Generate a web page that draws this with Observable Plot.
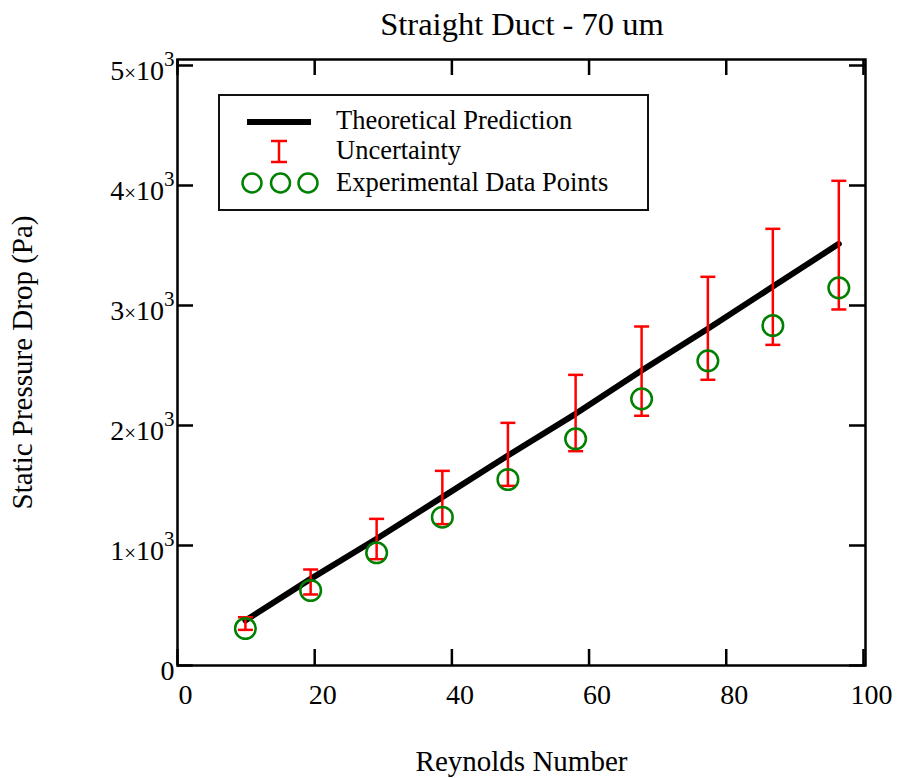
<!DOCTYPE html>
<html>
<head>
<meta charset="utf-8">
<script src="https://cdn.jsdelivr.net/npm/d3@7"></script>
<script src="https://cdn.jsdelivr.net/npm/@observablehq/plot@0.6"></script>
<style>
  html, body { margin: 0; padding: 0; background: #fff; }
  #wrap { position: relative; width: 899px; height: 778px; font-family: "Liberation Serif", "Times New Roman", serif; }
  #title { position: absolute; left: 177px; width: 690px; top: 8px; text-align: center; font-size: 32.5px; line-height: 32px; color: #000; }
  #legend { position: absolute; left: 218px; top: 94px; width: 427px; height: 113px; border: 2px solid #111; background: #fff; }
  #legend svg { position: absolute; left: 0; top: 0; }
</style>
</head>
<body>
<div id="wrap">
  <div id="chart"></div>
  <div id="title">Straight Duct - 70 um</div>
  <div id="legend"></div>
</div>
<script>
// ---- data ----
const reynolds = [9.90, 19.41, 29.03, 38.61, 48.17, 58.04, 67.66, 77.32, 86.79, 96.41];
const measured = [308, 625, 939, 1236, 1550, 1889, 2222, 2539, 2833, 3147];
const theory   = [375, 722, 1056, 1403, 1750, 2097, 2458, 2806, 3158, 3514];
const errHigh  = [402, 800, 1222, 1622, 2022, 2422, 2825, 3239, 3639, 4039];
const errLow   = [297, 592, 886, 1178, 1497, 1786, 2081, 2381, 2672, 2967];
const xTicks = [0, 20, 40, 60, 80, 100];
const yTicks = [0, 1000, 2000, 3000, 4000, 5000];
const xLabel = "Reynolds Number";
const yLabel = "Static Pressure Drop (Pa)";
const legendLabels = ["Theoretical Prediction", "Uncertainty", "Experimental Data Points"];

const rows = reynolds.map((x, i) => ({x, measured: measured[i], theory: theory[i], hi: errHigh[i], lo: errLow[i]}));

const W = 899, H = 778;
const mL = 177, mR = 34, mT = 59, mB = 113;
const fw = W - mL - mR, fh = H - mT - mB;
const tickLen = 16;

const cap = {draw(ctx) { ctx.moveTo(-7.5, 0); ctx.lineTo(7.5, 0); }};

const chart = Plot.plot({
  width: W, height: H,
  marginLeft: mL, marginRight: mR, marginTop: mT, marginBottom: mB,
  style: {fontFamily: "'Liberation Serif', 'Times New Roman', serif", background: "#fff", color: "#000"},
  x: {domain: [0, 100.3]},
  y: {domain: [0, 5050]},
  marks: [
    Plot.axisX(xTicks, {tickSize: 0, tickPadding: 19, dx: 8, fontSize: 28, label: null}),
    Plot.axisY(yTicks, {tickSize: 0, tickPadding: 3, dy: 6, fontSize: 28, label: null,
      tickFormat: d => d === 0 ? "0" : `${d / 1000}×10³`}),
    Plot.tickX(xTicks, {x: d => d, insetTop: fh - tickLen, stroke: "#000", strokeWidth: 2.5}),
    Plot.tickX(xTicks, {x: d => d, insetBottom: fh - tickLen, stroke: "#000", strokeWidth: 2.5}),
    Plot.tickY(yTicks, {y: d => d, insetRight: fw - tickLen, stroke: "#000", strokeWidth: 2.5}),
    Plot.tickY(yTicks, {y: d => d, insetLeft: fw - tickLen, stroke: "#000", strokeWidth: 2.5}),
    Plot.frame({stroke: "#000", strokeWidth: 2.5}),
    Plot.line(rows, {x: "x", y: "theory", stroke: "#000", strokeWidth: 6}),
    Plot.ruleX(rows, {x: "x", y1: "lo", y2: "hi", stroke: "#ff0000", strokeWidth: 2.5}),
    Plot.dot(rows, {x: "x", y: "hi", symbol: cap, fill: "none", stroke: "#ff0000", strokeWidth: 2.5}),
    Plot.dot(rows, {x: "x", y: "lo", symbol: cap, fill: "none", stroke: "#ff0000", strokeWidth: 2.5}),
    Plot.dot(rows, {x: "x", y: "measured", r: 10.3, fill: "none", stroke: "#008000", strokeWidth: 2.5}),
    Plot.text([xLabel], {frameAnchor: "bottom", lineAnchor: "middle", textAnchor: "middle", dy: 96, fontSize: 29}),
    Plot.text([yLabel], {frameAnchor: "left", lineAnchor: "middle", textAnchor: "middle", rotate: -90, dx: -155, fontSize: 29})
  ]
});
document.getElementById("chart").appendChild(chart);

// typeset y tick labels as mantissa × 10 with a raised exponent
d3.select(chart).selectAll('[aria-label="y-axis tick label"] text').each(function() {
  const s = this.textContent;
  const m = s.match(/^(\d+)×10³$/);
  if (!m) return;
  const t = d3.select(this);
  t.text(null);
  t.append("tspan").text(m[1]);
  t.append("tspan").attr("font-size", 21).text("×");
  t.append("tspan").text("10");
  t.append("tspan").attr("font-size", 21).attr("dy", -14).text("3");
});

// ---- legend ----
const lg = d3.select("#legend").append("svg").attr("width", 427).attr("height", 113)
  .style("font-family", "'Liberation Serif', 'Times New Roman', serif");
lg.append("line").attr("x1", 27).attr("x2", 91).attr("y1", 26).attr("y2", 26).attr("stroke", "#000").attr("stroke-width", 6);
lg.append("line").attr("x1", 59).attr("x2", 59).attr("y1", 45).attr("y2", 66).attr("stroke", "#ff0000").attr("stroke-width", 2.5);
lg.append("line").attr("x1", 51).attr("x2", 67).attr("y1", 45).attr("y2", 45).attr("stroke", "#ff0000").attr("stroke-width", 2.5);
lg.append("line").attr("x1", 51).attr("x2", 67).attr("y1", 66).attr("y2", 66).attr("stroke", "#ff0000").attr("stroke-width", 2.5);
[32, 60.5, 88].forEach(cx => lg.append("circle").attr("cx", cx).attr("cy", 87).attr("r", 9.5)
  .attr("fill", "none").attr("stroke", "#008000").attr("stroke-width", 2.5));
const baselines = [33, 63, 95];
legendLabels.forEach((t, i) => lg.append("text").attr("x", 116).attr("y", baselines[i])
  .attr("font-size", 26.5).attr("fill", "#000").text(t));
</script>
</body>
</html>
